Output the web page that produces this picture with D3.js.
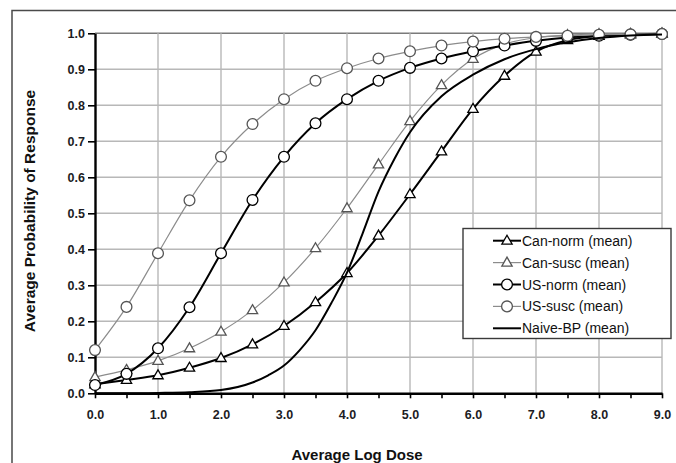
<!DOCTYPE html>
<html>
<head>
<meta charset="utf-8">
<script src="https://cdn.jsdelivr.net/npm/d3@7"></script>
<style>
  body { margin: 0; background: #fff; }
  svg { display: block; font-family: "Liberation Sans", Arial, sans-serif; }
</style>
</head>
<body>
<div id="chart"></div>
<script>
"use strict";

// dose levels where the markers sit (log dose)
let doseLevels = [0, 0.5, 1, 1.5, 2, 2.5, 3, 3.5, 4, 4.5, 5, 5.5, 6, 6.5, 7, 7.5, 8, 8.5, 9];

// average probability of response
let canNorm = [0.025, 0.037, 0.050, 0.071, 0.098, 0.136, 0.187, 0.253, 0.334, 0.438, 0.553, 0.672, 0.790, 0.882, 0.949, 0.981, 0.993, 0.997, 0.999];
let canSusc = [0.045, 0.065, 0.090, 0.125, 0.171, 0.231, 0.308, 0.403, 0.514, 0.636, 0.756, 0.856, 0.929, 0.970, 0.988, 0.995, 0.998, 0.999, 1.000];
let usNorm  = [0.023, 0.054, 0.125, 0.239, 0.389, 0.537, 0.657, 0.750, 0.817, 0.868, 0.904, 0.930, 0.950, 0.966, 0.979, 0.988, 0.993, 0.996, 0.998];
let usSusc  = [0.120, 0.240, 0.389, 0.536, 0.657, 0.748, 0.817, 0.868, 0.903, 0.930, 0.950, 0.966, 0.977, 0.985, 0.990, 0.993, 0.996, 0.997, 0.998];

// naive beta-poisson curve (no markers)
let naiveDose = [0, 0.5, 1, 1.5, 2, 2.5, 2.75, 3, 3.25, 3.5, 3.75, 4, 4.25, 4.5, 4.75, 5, 5.5, 6, 6.5, 7, 7.5, 8, 8.5, 9];
let naiveProb = [0, 0, 0.001, 0.003, 0.009, 0.030, 0.050, 0.077, 0.120, 0.175, 0.250, 0.335, 0.445, 0.560, 0.650, 0.725, 0.825, 0.885, 0.928, 0.956, 0.975, 0.987, 0.994, 0.997];

let seriesNames = ["Can-norm (mean)", "Can-susc (mean)", "US-norm (mean)", "US-susc (mean)", "Naive-BP (mean)"];

// tick labels
let xTickLabels = ["0.0", "1.0", "2.0", "3.0", "4.0", "5.0", "6.0", "7.0", "8.0", "9.0"];
let yTickLabels = ["0.0", "0.1", "0.2", "0.3", "0.4", "0.5", "0.6", "0.7", "0.8", "0.9", "1.0"];

let width = 676, height = 463;

let svg = d3.select("#chart")
.append("svg")
.attr("width", width)
.attr("height", height);

// outer frame (only left and top edges are inside the picture)
svg.append("rect")
.attr("x", 12)
.attr("y", 10.5)
.attr("width", 700)
.attr("height", 500)
.attr("fill", "#fff")
.attr("stroke", "#4a4a4a")
.attr("stroke-width", 1.5);

// scales
let x = d3.scaleLinear()
.domain([0, 9])
.range([95, 662]);

let y = d3.scaleLinear()
.domain([0, 1])
.range([393.3, 33.3]);

let xMajor = xTickLabels.map(function(t){ return +t; });
let yMajor = yTickLabels.map(function(t){ return +t; });

// gridlines
svg.append("g")
.selectAll("line")
.data(yMajor.slice(1))
.join("line")
.attr("x1", x(0))
.attr("x2", x(9))
.attr("y1", function(d){ return y(d); })
.attr("y2", function(d){ return y(d); })
.attr("stroke", function(d){ return d === 1 ? "#7a7a7a" : "#b8b8b8"; })
.attr("stroke-width", 1.4);

svg.append("g")
.selectAll("line")
.data(xMajor.slice(1))
.join("line")
.attr("x1", function(d){ return x(d); })
.attr("x2", function(d){ return x(d); })
.attr("y1", y(0))
.attr("y2", y(1))
.attr("stroke", "#b8b8b8")
.attr("stroke-width", 1.4);

// axes
let xAxis = svg.append("g")
.attr("transform", "translate(0," + y(0) + ")")
.call(d3.axisBottom(x)
  .tickValues(doseLevels)
  .tickSize(5)
  .tickSizeOuter(0)
  .tickFormat(function(d){
    let i = xMajor.indexOf(d);
    return i >= 0 ? xTickLabels[i] : "";
  }));

xAxis.select(".domain").attr("stroke", "#000").attr("stroke-width", 2.4);
xAxis.selectAll(".tick line").attr("stroke", "#000").attr("stroke-width", 1.6);
xAxis.selectAll(".tick text")
.attr("y", 25.5)
.attr("dy", 0)
.attr("fill", "#1c1c24")
.style("font-size", "12.5px")
.style("font-weight", "bold");

let yAxis = svg.append("g")
.attr("transform", "translate(" + x(0) + ",0)")
.call(d3.axisLeft(y)
  .tickValues(yMajor)
  .tickSize(7)
  .tickSizeOuter(0)
  .tickPadding(3)
  .tickFormat(function(d, i){ return yTickLabels[i]; }));

yAxis.select(".domain").attr("stroke", "#000").attr("stroke-width", 2.4);
yAxis.selectAll(".tick line").attr("stroke", "#000").attr("stroke-width", 1.6);
yAxis.selectAll(".tick text")
.attr("dy", "0.36em")
.attr("fill", "#1c1c24")
.style("font-size", "12.5px")
.style("font-weight", "bold");

// axis titles
svg.append("text")
.attr("x", 357)
.attr("y", 460)
.attr("text-anchor", "middle")
.attr("fill", "#111")
.style("font-size", "15px")
.style("font-weight", "bold")
.text("Average Log Dose");

svg.append("text")
.attr("transform", "translate(35,211) rotate(-90)")
.attr("text-anchor", "middle")
.attr("fill", "#111")
.style("font-size", "15.5px")
.style("font-weight", "bold")
.text("Average Probability of Response");

// series styling
let series = [
  {name: seriesNames[0], values: canNorm, marker: "triangle", line: "#000", lw: 2, ms: "#000"},
  {name: seriesNames[1], values: canSusc, marker: "triangle", line: "#8c8c8c", lw: 1.2, ms: "#555"},
  {name: seriesNames[2], values: usNorm,  marker: "circle",   line: "#000", lw: 2, ms: "#000"},
  {name: seriesNames[3], values: usSusc,  marker: "circle",   line: "#8c8c8c", lw: 1.2, ms: "#555"}
];

let line = d3.line()
.x(function(d){ return x(d[0]); })
.y(function(d){ return y(d[1]); })
.curve(d3.curveMonotoneX);

let triangle = d3.symbol().type(d3.symbolTriangle).size(46);

function drawMarker(g, kind, cx, cy, stroke){
  if(kind === "circle"){
    g.append("circle")
    .attr("cx", cx)
    .attr("cy", cy)
    .attr("r", 5.4)
    .attr("fill", "#fff")
    .attr("stroke", stroke)
    .attr("stroke-width", 1.3);
  } else {
    g.append("path")
    .attr("d", triangle())
    .attr("transform", "translate(" + cx + "," + (cy + 0.5) + ")")
    .attr("fill", "#fff")
    .attr("stroke", stroke)
    .attr("stroke-width", 1.3);
  }
}

for(let s of series){
  let pts = doseLevels.map(function(d, i){ return [d, s.values[i]]; });
  let g = svg.append("g");
  g.append("path")
  .datum(pts)
  .attr("d", line)
  .attr("fill", "none")
  .attr("stroke", s.line)
  .attr("stroke-width", s.lw);
  for(let p of pts){
    drawMarker(g, s.marker, x(p[0]), y(p[1]), s.ms);
  }
}

// naive BP line
svg.append("path")
.datum(naiveDose.map(function(d, i){ return [d, naiveProb[i]]; }))
.attr("d", line)
.attr("fill", "none")
.attr("stroke", "#000")
.attr("stroke-width", 2);

// legend
let legend = svg.append("g");

legend.append("rect")
.attr("x", 463)
.attr("y", 228.5)
.attr("width", 208)
.attr("height", 110)
.attr("fill", "#fff")
.attr("stroke", "#3a3a3a")
.attr("stroke-width", 1.4);

let legendItems = series.concat([{name: seriesNames[4], marker: "none", line: "#000", lw: 2, ms: "#000"}]);

for(let i = 0; i < legendItems.length; i = i + 1){
  let it = legendItems[i];
  let cy = 240.7 + i * 21.9;
  legend.append("line")
  .attr("x1", 493)
  .attr("x2", 521)
  .attr("y1", cy)
  .attr("y2", cy)
  .attr("stroke", it.line)
  .attr("stroke-width", it.lw);
  if(it.marker !== "none"){
    drawMarker(legend, it.marker, 507, cy, it.ms);
  }
  legend.append("text")
  .attr("x", 522)
  .attr("y", cy + 5)
  .attr("fill", "#111")
  .style("font-size", "14px")
  .text(it.name);
}
</script>
</body>
</html>
